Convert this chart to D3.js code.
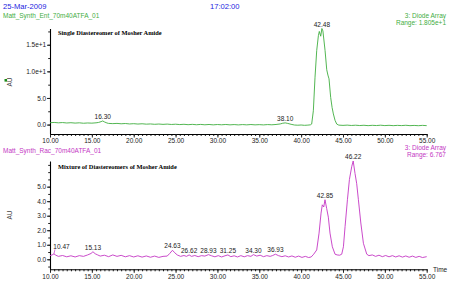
<!DOCTYPE html>
<html><head><meta charset="utf-8">
<script src="https://cdn.jsdelivr.net/npm/d3@7"></script>
<style>
body{margin:0;background:#fff}
svg{display:block}
text{font-family:"Liberation Sans",Arial,sans-serif}
</style>
</head><body>
<svg id="c" width="450" height="283"></svg>
<script>
// ---------- data ----------
const runDate = "25-Mar-2009";
const runTime = "17:02:00";
const sampleNames = ["Matt_Synth_Ent_70m40ATFA_01", "Matt_Synth_Rac_70m40ATFA_01"];
const panelTitles = ["Single Diastereomer of Mosher Amide", "Mixture of Diastereomers of Mosher Amide"];
const detectorName = "3: Diode Array";
const rangeLabels = ["Range: 1.805e+1", "Range: 6.767"];
const rangeValues = [18.05, 6.767];
const yMinValues = [-1.77, -0.69];
const xTickValues = [10, 15, 20, 25, 30, 35, 40, 45, 50, 55];
const xTickLabels = ["10.00","15.00","20.00","25.00","30.00","35.00","40.00","45.00","50.00","55.00"];
const entYTicks = [0, 5, 10, 15];
const entYTickLabels = ["0.0", "5.0", "1.0e+1", "1.5e+1"];
const racYTicks = [0, 1, 2, 3, 4, 5];
const racYTickLabels = ["0.0", "1.0", "2.0", "3.0", "4.0", "5.0"];
const entPeaks = [16.30, 38.10, 42.48];
const racPeaks = [10.47, 15.13, 24.63, 26.62, 28.93, 31.25, 34.30, 36.93, 42.85, 46.22];

// [time (min), AU]
const entTrace = [
[10,.35],[10.5,.40],[11,.33],[11.5,.38],[12,.30],[12.5,.35],[13,.28],[13.5,.33],[14,.25],[14.5,.30],
[15,.27],[15.5,.33],[15.8,.40],[16.1,.55],[16.3,.68],[16.5,.50],[16.8,.30],[17,.22],[17.5,.18],[18,.22],
[18.5,.15],[19,.20],[19.5,.12],[20,.17],[20.5,.10],[21,.15],[21.5,.08],[22,.12],[22.5,.05],[23,.10],
[23.5,.04],[24,.09],[24.5,.02],[25,.07],[25.5,.00],[26,.05],[26.5,-.02],[27,.04],[27.5,-.03],[28,.03],
[28.5,-.04],[29,.02],[29.5,-.05],[30,.01],[30.5,-.04],[31,.02],[31.5,-.05],[32,.00],[32.5,-.06],[33,.00],
[33.5,-.05],[34,.01],[34.5,-.05],[35,-.01],[35.5,-.06],[36,.00],[36.5,-.04],[37,.02],[37.5,.12],[37.8,.25],
[38.1,.32],[38.4,.22],[38.8,.05],[39.2,-.08],[39.6,-.12],[40,-.08],[40.4,-.14],[40.8,-.10],[41.1,-.05],
[41.26,.10],[41.46,2.6],[41.66,8.9],[41.86,13.9],[42.06,16.7],[42.17,17.5],[42.34,16.6],[42.48,18.05],
[42.6,17.6],[42.86,13.9],[43.06,10.3],[43.2,9.3],[43.33,8.6],[43.53,5.1],[43.7,3.2],[43.85,2.0],
[44.05,.80],[44.25,.10],[44.5,-.10],[45,-.15],[45.5,-.10],[46,-.17],[46.5,-.12],[47,-.18],[47.5,-.13],
[48,-.20],[48.5,-.14],[49,-.18],[49.5,-.12],[50,-.19],[50.5,-.14],[51,-.20],[51.5,-.15],[52,-.19],
[52.5,-.13],[53,-.20],[53.5,-.16],[54,-.21],[54.5,-.15],[55,-.20]
];
const racTrace = [
[10,.25],[10.25,.30],[10.47,.37],[10.7,.28],[11,.20],[11.5,.26],[12,.17],[12.5,.24],[13,.16],[13.5,.25],
[14,.20],[14.5,.30],[14.9,.40],[15.13,.52],[15.4,.38],[15.7,.30],[16,.22],[16.5,.28],[17,.18],[17.5,.30],
[18,.20],[18.5,.27],[19,.17],[19.5,.25],[20,.16],[20.5,.24],[21,.15],[21.5,.23],[22,.14],[22.5,.22],
[23,.13],[23.5,.20],[24,.22],[24.3,.40],[24.63,.62],[24.9,.45],[25.2,.30],[25.6,.20],[26,.26],[26.3,.20],
[26.62,.30],[26.9,.20],[27.3,.26],[27.7,.18],[28.1,.25],[28.5,.22],[28.93,.32],[29.3,.24],[29.7,.17],
[30.1,.25],[30.5,.16],[30.9,.24],[31.25,.30],[31.6,.18],[32,.24],[32.4,.16],[32.8,.25],[33.2,.17],
[33.6,.25],[34,.20],[34.3,.32],[34.7,.22],[35.1,.28],[35.5,.18],[35.9,.25],[36.3,.20],[36.6,.26],
[36.93,.35],[37.3,.25],[37.7,.18],[38.1,.24],[38.5,.16],[38.9,.23],[39.3,.14],[39.7,.22],[40.1,.13],
[40.5,.20],[40.9,.12],[41.2,.16],[41.5,.35],[41.86,.64],[42.14,1.8],[42.38,3.18],[42.53,3.75],[42.7,3.6],
[42.85,4.1],[43.05,3.5],[43.25,2.9],[43.45,1.8],[43.73,.86],[44.05,.35],[44.3,.30],[44.6,.28],[44.85,.35],
[45.05,.86],[45.25,2.26],[45.53,4.1],[45.77,5.5],[46.05,6.4],[46.22,6.767],[46.44,5.9],[46.64,5.2],
[46.84,4.1],[47.13,2.5],[47.44,1.1],[47.84,.35],[48.1,.25],[48.5,.30],[48.9,.20],[49.3,.28],[49.7,.18],
[50.1,.26],[50.5,.17],[50.9,.25],[51.3,.16],[51.7,.24],[52.1,.15],[52.5,.23],[52.9,.14],[53.3,.22],
[53.7,.13],[54.1,.20],[54.5,.12],[55,.18]
];

// ---------- drawing ----------
const svg = d3.select("#c");
const GREEN = "#3fae3f", MAGENTA = "#c437c4", BLUE = "#2323e0", INK = "#222";
const FS = "6.5px";
const xLeft = 50, xRight = 426.7;
const x = d3.scaleLinear().domain([10, 55]).range([xLeft, xRight]);

svg.append("text").attr("x", 3).attr("y", 9).attr("fill", BLUE)
  .style("font-size", "7.6px").text(runDate);
svg.append("text").attr("x", 210).attr("y", 9).attr("fill", BLUE)
  .style("font-size", "7.6px").text(runTime);

const panels = [
  {trace: entTrace, color: GREEN, name: sampleNames[0], title: panelTitles[0], range: rangeLabels[0],
   ymax: rangeValues[0], ymin: yMinValues[0], yTicks: entYTicks, yLabels: entYTickLabels, peaks: entPeaks,
   top: 28.5, bottom: 134, nameY: 17.5, detY: 17.5, rangeY: 25, titleY: 34.5, auY: 82, square: true},
  {trace: racTrace, color: MAGENTA, name: sampleNames[1], title: panelTitles[1], range: rangeLabels[1],
   ymax: rangeValues[1], ymin: yMinValues[1], yTicks: racYTicks, yLabels: racYTickLabels, peaks: racPeaks,
   top: 161, bottom: 269.3, nameY: 152.5, detY: 150, rangeY: 157.3, titleY: 169, auY: 215, square: false}
];

panels.forEach((p, pi) => {
  const y = d3.scaleLinear().domain([p.ymin, p.ymax]).range([p.bottom, p.top]);
  const g = svg.append("g");

  g.append("text").attr("x", 3).attr("y", p.nameY).attr("fill", p.color)
    .style("font-size", FS).text(p.name);
  g.append("text").attr("x", 446).attr("y", p.detY).attr("fill", p.color)
    .attr("text-anchor", "end").style("font-size", FS).text(detectorName);
  g.append("text").attr("x", 446).attr("y", p.rangeY).attr("fill", p.color)
    .attr("text-anchor", "end").style("font-size", FS).text(p.range);
  g.append("text").attr("x", 58).attr("y", p.titleY).attr("fill", "#000")
    .style("font-family", "'Liberation Serif','Times New Roman',serif")
    .style("font-weight", "bold").style("font-size", "6.4px").text(p.title);

  // AU label
  const auX = 11.5;
  g.append("text").attr("transform", `translate(${auX},${p.auY}) rotate(-90)`)
    .attr("text-anchor", "middle").attr("fill", "#444").style("font-size", FS).text("AU");
  if (p.square) {
    g.append("rect").attr("x", 4.5).attr("y", p.auY - 3).attr("width", 2.6).attr("height", 2.6).attr("fill", "#1a8a1a");
  }

  // x axis minor ticks
  const minor = d3.range(10, 55.01, 0.5);
  const xMinor = d3.axisBottom(x).tickValues(minor).tickSize(2).tickFormat("").tickSizeOuter(0);
  const gxm = g.append("g").attr("transform", `translate(0,${p.bottom})`).call(xMinor);
  gxm.select(".domain").remove();
  gxm.selectAll("line").attr("stroke", INK);

  const xAxis = d3.axisBottom(x).tickValues(xTickValues).tickSize(3.5).tickPadding(1.2)
    .tickFormat((d, i) => xTickLabels[i]).tickSizeOuter(0);
  const gx = g.append("g").attr("transform", `translate(0,${p.bottom})`).call(xAxis);
  gx.select(".domain").attr("stroke", "#000").attr("stroke-width", 1.1);
  gx.selectAll("line").attr("stroke", INK);
  gx.selectAll("text").style("font-size", FS).attr("fill", INK).style("font-family", "'Liberation Sans',Arial,sans-serif");

  // y axis
  const yMinorVals = d3.range(Math.ceil(p.ymin / (p.yTicks[1] / 2)) * (p.yTicks[1] / 2), p.ymax, p.yTicks[1] / 2);
  const yMinor = d3.axisLeft(y).tickValues(yMinorVals).tickSize(1.8).tickFormat("").tickSizeOuter(0);
  const gym = g.append("g").attr("transform", `translate(${xLeft},0)`).call(yMinor);
  gym.select(".domain").remove();
  gym.selectAll("line").attr("stroke", INK);

  const yAxis = d3.axisLeft(y).tickValues(p.yTicks).tickSize(3).tickPadding(0.8)
    .tickFormat((d, i) => p.yLabels[i]).tickSizeOuter(0);
  const gy = g.append("g").attr("transform", `translate(${xLeft},0)`).call(yAxis);
  gy.select(".domain").attr("stroke", "#000").attr("stroke-width", 1.1);
  gy.selectAll("line").attr("stroke", INK);
  gy.selectAll("text").style("font-size", FS).attr("fill", INK).style("font-family", "'Liberation Sans',Arial,sans-serif");

  // trace
  const line = d3.line().x(d => x(d[0])).y(d => y(d[1]));
  g.append("path").datum(p.trace).attr("d", line).attr("fill", "none")
    .attr("stroke", p.color).attr("stroke-width", 0.9).attr("stroke-linejoin", "round");

  // peak labels
  const valueAt = t => {
    const i = d3.bisector(d => d[0]).left(p.trace, t);
    const a = p.trace[Math.max(0, i - 1)], b = p.trace[Math.min(p.trace.length - 1, i)];
    if (b[0] === a[0]) return b[1];
    return a[1] + (b[1] - a[1]) * (t - a[0]) / (b[0] - a[0]);
  };
  p.peaks.forEach(t => {
    const v = valueAt(t);
    const px = x(t), py = y(v);
    const label = t.toFixed(2);
    const halfW = 8.5;
    let lx = px, ly = py - 1.8;
    if (px - halfW < xLeft + 2) {
      lx = xLeft + 3 + halfW;
      ly = py - 5;
      g.append("line").attr("x1", px).attr("y1", py).attr("x2", lx - halfW + 2).attr("y2", ly + 0.5)
        .attr("stroke", p.color).attr("stroke-width", 0.7);
    }
    g.append("text").attr("x", lx).attr("y", ly).attr("text-anchor", "middle")
      .attr("fill", INK).style("font-size", FS).text(label);
  });

  if (pi === 1) {
    g.append("text").attr("x", 433).attr("y", p.bottom + 3).attr("fill", INK)
      .style("font-size", FS).text("Time");
  }
});
</script>
</body></html>
